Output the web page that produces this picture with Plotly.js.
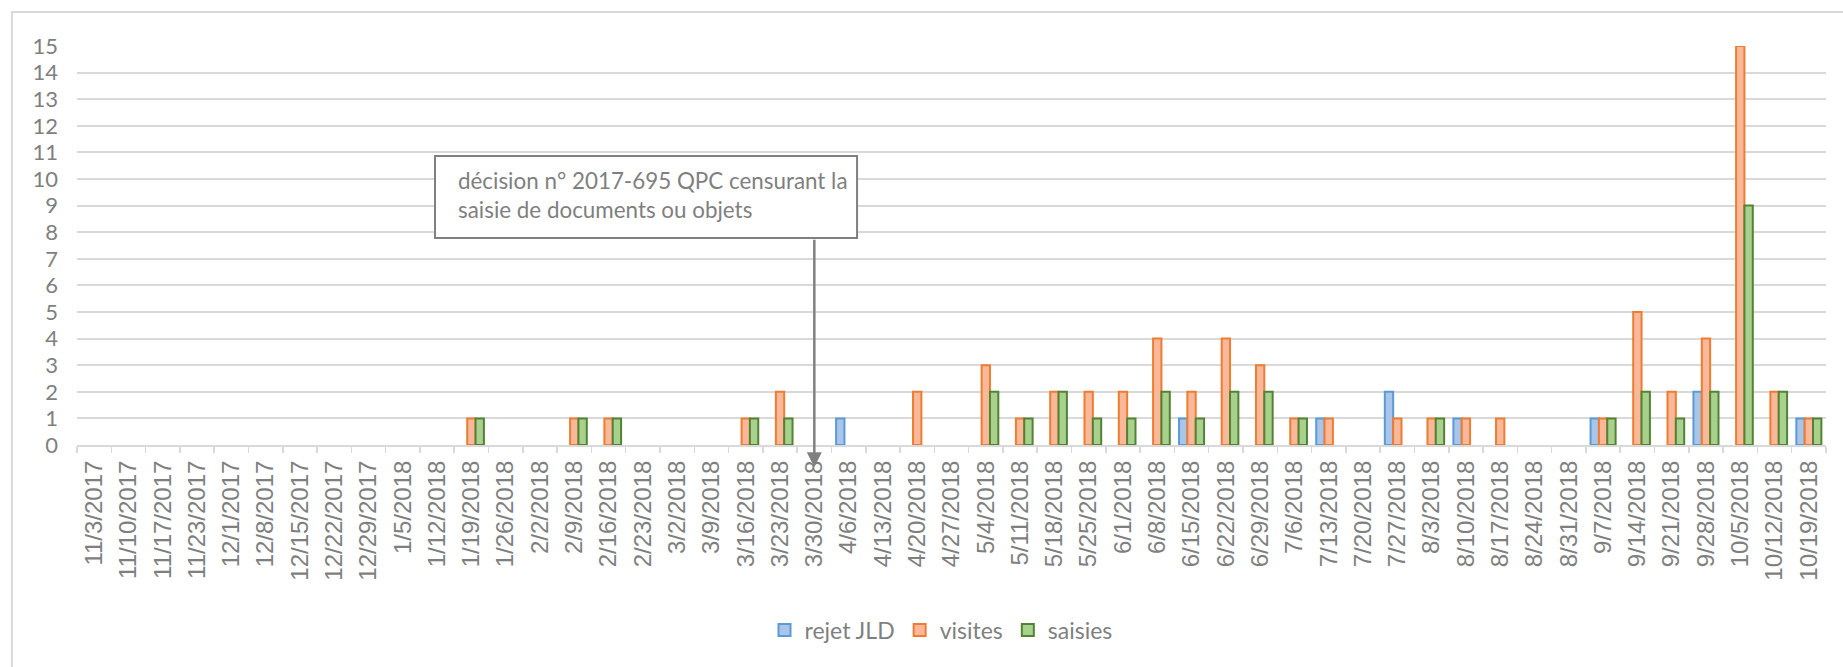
<!DOCTYPE html>
<html>
<head>
<meta charset="utf-8">
<script src="https://cdn.plot.ly/plotly-3.0.1.min.js"></script>
<style>html,body{margin:0;padding:0;background:#fff;}#chart{width:1843px;height:667px;}</style>
</head>
<body>
<div id="chart"></div>
<script>
const categories = ["11/3/2017","11/10/2017","11/17/2017","11/23/2017","12/1/2017","12/8/2017","12/15/2017","12/22/2017","12/29/2017","1/5/2018","1/12/2018","1/19/2018","1/26/2018","2/2/2018","2/9/2018","2/16/2018","2/23/2018","3/2/2018","3/9/2018","3/16/2018","3/23/2018","3/30/2018","4/6/2018","4/13/2018","4/20/2018","4/27/2018","5/4/2018","5/11/2018","5/18/2018","5/25/2018","6/1/2018","6/8/2018","6/15/2018","6/22/2018","6/29/2018","7/6/2018","7/13/2018","7/20/2018","7/27/2018","8/3/2018","8/10/2018","8/17/2018","8/24/2018","8/31/2018","9/7/2018","9/14/2018","9/21/2018","9/28/2018","10/5/2018","10/12/2018","10/19/2018"];
const rejetJLD = [0,0,0,0,0,0,0,0,0,0,0,0,0,0,0,0,0,0,0,0,0,0,1,0,0,0,0,0,0,0,0,0,1,0,0,0,1,0,2,0,1,0,0,0,1,0,0,2,0,0,1];
const visites  = [0,0,0,0,0,0,0,0,0,0,0,1,0,0,1,1,0,0,0,1,2,0,0,0,2,0,3,1,2,2,2,4,2,4,3,1,1,0,1,1,1,1,0,0,1,5,2,4,15,2,1];
const saisies  = [0,0,0,0,0,0,0,0,0,0,0,1,0,0,1,1,0,0,0,1,1,0,0,0,0,0,2,1,2,1,1,2,1,2,2,1,0,0,0,1,0,0,0,0,1,2,1,2,9,2,1];
const seriesNames = ["rejet JLD","visites","saisies"];
const annotationText = "décision n° 2017-695 QPC censurant la<br>saisie de documents ou objets";
const annotationCategory = "3/30/2018";

const txt = "#7f7f7f";
const grid = "#d9d9d9";
const calib = "Lato, 'Open Sans', sans-serif";

function bar(name, y, fill, line) {
  // zero values are drawn as no bar (as in the original chart)
  return {type:"bar", name:name, x:categories, y:y.map(v => v === 0 ? null : v),
    marker:{color:fill, line:{color:line, width:2}}, hoverinfo:"x+y+name"};
}

const data = [
  bar(seriesNames[0], rejetJLD, "#a9c5ea", "#5b9bd5"),
  bar(seriesNames[1], visites, "#f8b899", "#ed7d31"),
  bar(seriesNames[2], saisies, "#a9d18e", "#548235")
];

const arrowIdx = categories.indexOf(annotationCategory);
const arrowX = (arrowIdx + 0.5) / categories.length;

const layout = {
  width:1843, height:667,
  margin:{l:77, r:17, t:46, b:222},
  paper_bgcolor:"#fff", plot_bgcolor:"#fff",
  barmode:"group", bargap:0.27, bargroupgap:0,
  font:{family:calib, color:txt, size:22},
  xaxis:{type:"category", tickangle:-90, tickson:"boundaries", ticks:"outside",
    ticklen:6, tickcolor:grid, tickwidth:1.5, showline:true, linecolor:grid, linewidth:2,
    showgrid:false, tickfont:{family:"'Liberation Sans', Arial, sans-serif", size:24, color:txt},
    ticklabelstandoff:4, automargin:false},
  yaxis:{range:[0,15], dtick:1, tick0:0, showgrid:true, gridcolor:grid, gridwidth:2,
    zeroline:false, showline:false, ticks:"", tickfont:{family:calib, size:22, color:txt},
    ticklabelstandoff:18, automargin:false, fixedrange:true},
  legend:{orientation:"h", x:0.494, xanchor:"center", y:-0.4637, yanchor:"middle",
    font:{family:calib, size:23, color:txt}, itemwidth:30, traceorder:"normal"},
  shapes:[
    {type:"rect", xref:"paper", yref:"paper", x0:-0.0372, x1:1.1, y0:-0.6, y1:1.0852,
     line:{color:grid, width:2}, fillcolor:"rgba(0,0,0,0)", layer:"below"},
    {type:"rect", xref:"paper", yref:"paper", x0:0.2047, x1:0.446, y0:0.5188, y1:0.7243,
     line:{color:"#808080", width:2}, fillcolor:"#ffffff", layer:"above"}
  ],
  annotations:[
    {xref:"paper", yref:"paper", x:0.2167, y:0.626, xanchor:"left", yanchor:"middle",
     text:annotationText, showarrow:false, align:"left",
     font:{family:calib, size:22.4, color:txt}},
    {xref:"paper", yref:"paper", x:arrowX, y:-0.056, text:"", showarrow:true,
     axref:"pixel", ayref:"pixel", ax:0, ay:-229, arrowhead:2, arrowsize:1.2,
     arrowwidth:2.5, arrowcolor:"#808080", standoff:0}
  ]
};

Plotly.newPlot("chart", data, layout, {displayModeBar:false, staticPlot:true});
</script>
</body>
</html>
